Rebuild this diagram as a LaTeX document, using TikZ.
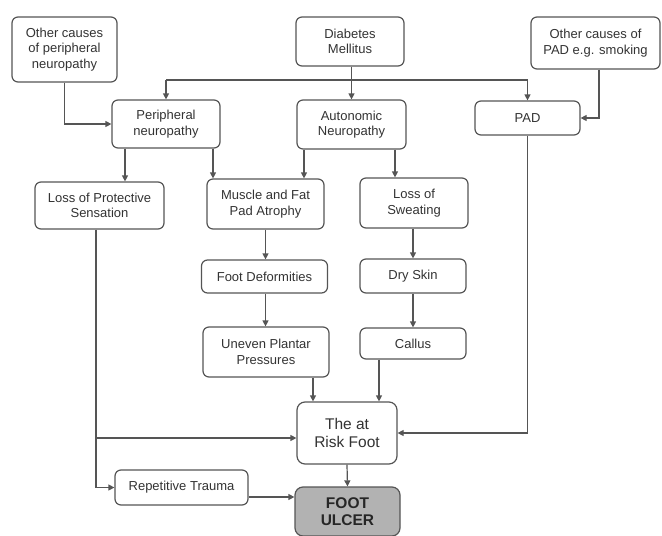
\documentclass[tikz,border=0pt]{standalone}
\usepackage{fontspec}
\setmainfont{Liberation Sans}
\usetikzlibrary{arrows.meta}
\definecolor{ln}{HTML}{555555}
\definecolor{tx}{HTML}{333333}
\definecolor{ulc}{HTML}{B2B2B2}
\begin{document}
\begin{tikzpicture}[x=1pt,y=-1pt,
  box/.style={draw=ln, line width=1.2pt, rounded corners=6pt, fill=white, align=center,
    text=tx, inner sep=0pt, font=\fontsize{13}{15.5}\selectfont},
  arr/.style={draw=ln, line width=1.2pt, -{Triangle[length=6pt,width=6pt]}},
  ln/.style={draw=ln, line width=1.2pt}]
\useasboundingbox (0,0) rectangle (662,536);
\node[box, minimum width=105pt, minimum height=65pt] (ocpn) at (64.5,49.5) {Other causes\\of peripheral\\neuropathy};
\node[box, minimum width=108pt, minimum height=49pt] (dm) at (350,41.5) {Diabetes\\Mellitus};
\node[box, minimum width=129pt, minimum height=52pt] (ocpad) at (595.5,43) {Other causes of\\PAD e.g. smoking};
\node[box, minimum width=108pt, minimum height=48pt] (pn) at (166,124) {Peripheral\\neuropathy};
\node[box, minimum width=109pt, minimum height=49pt] (an) at (351.5,124.5) {Autonomic\\Neuropathy};
\node[box, minimum width=105pt, minimum height=34pt] (pad) at (527.5,118) {PAD};
\node[box, minimum width=129pt, minimum height=47pt] (lps) at (99.5,205.5) {Loss of Protective\\Sensation};
\node[box, minimum width=117pt, minimum height=50pt] (mfpa) at (265.5,204) {Muscle and Fat\\Pad Atrophy};
\node[box, minimum width=108pt, minimum height=50pt] (ls) at (414,203) {Loss of\\Sweating};
\node[box, minimum width=126pt, minimum height=33pt] (fd) at (264.5,276.5) {Foot Deformities};
\node[box, minimum width=106pt, minimum height=34pt] (dry) at (413,276) {Dry Skin};
\node[box, minimum width=126pt, minimum height=50pt] (upp) at (266,352) {Uneven Plantar\\Pressures};
\node[box, minimum width=106pt, minimum height=31pt] (cal) at (413,343.5) {Callus};
\node[box, minimum width=100pt, minimum height=62pt, rounded corners=8pt,
  font=\fontsize{15.5}{18}\selectfont] (risk) at (347,433) {The at\\Risk Foot};
\node[box, minimum width=133pt, minimum height=35pt] (rt) at (181.5,487.5) {Repetitive Trauma};
\node[box, minimum width=105pt, minimum height=49pt, rounded corners=8pt, fill=ulc,
  text=black!85, font=\fontsize{15.5}{17}\selectfont\bfseries] (ulc) at (347.5,511.5) {FOOT\\ULCER};
% bus from Diabetes Mellitus
\coordinate (bus) at (0,80);
\draw[ln] (dm.south -| an.north) -- (bus -| an.north);
\draw[ln] (bus -| pn.north) -- (bus -| pad.north);
\draw[arr] (bus -| pn.north) -- (pn.north);
\draw[arr] (bus -| an.north) -- (an.north);
\draw[arr] (bus -| pad.north) -- (pad.north);
% other causes
\draw[arr] (ocpn.south) |- (pn.west);
\draw[arr] ([xshift=3.5pt]ocpad.south) |- (pad.east);
% from peripheral neuropathy
\draw[arr] ([xshift=-41pt]pn.south) -- ([xshift=-41pt]pn.south |- lps.north);
\draw[arr] ([xshift=47pt]pn.south) -- ([xshift=47pt]pn.south |- mfpa.north);
% from autonomic neuropathy
\draw[arr] ([xshift=-47.5pt]an.south) -- ([xshift=-47.5pt]an.south |- mfpa.north);
\draw[arr] ([xshift=43.5pt]an.south) -- ([xshift=43.5pt]an.south |- ls.north);
% chains
\draw[arr] (mfpa.south) -- (mfpa.south |- fd.north);
\draw[arr] (fd.south -| mfpa.south) -- (mfpa.south |- upp.north);
\draw[arr] (ls.south -| dry.north) -- (dry.north);
\draw[arr] (dry.south) -- (cal.north);
\draw[arr] ([xshift=-34pt]risk.north |- upp.south) -- ([xshift=-34pt]risk.north);
\draw[arr] ([xshift=32pt]risk.north |- cal.south) -- ([xshift=32pt]risk.north);
\draw[arr] (pad.south) |- (risk.east);
% loss of protective sensation
\coordinate (lpsr) at ([yshift=-5pt]risk.west);
\coordinate (rtu) at ([yshift=-9.5pt]rt.east);
\draw[arr] ([xshift=-3.5pt]lps.south) |- (rt.west);
\draw[arr] ([xshift=-3.5pt]lps.south |- lpsr) -- (lpsr);
% to ulcer
\draw[arr] (risk.south) -- (ulc.north);
\draw[arr] (rtu) -- (ulc.west |- rtu);
\end{tikzpicture}
\end{document}
